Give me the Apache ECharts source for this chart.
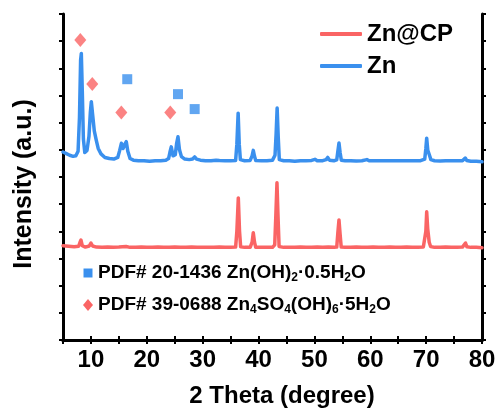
<!DOCTYPE html>
<html>
<head>
<meta charset="utf-8">
<script src="https://cdn.jsdelivr.net/npm/echarts@6/dist/echarts.min.js"></script>
<style>
html,body{margin:0;padding:0;background:#fff;}
#chart{width:499px;height:413px;}
</style>
</head>
<body>
<div id="chart"></div>
<script>
// ---- data (2θ in degrees, intensity in a.u. with vertical offset as drawn) ----
const seriesNames = ['Zn@CP', 'Zn'];
const xTickValues = [10, 20, 30, 40, 50, 60, 70, 80];

const znData = [
  [5.0,6.92],[5.6,6.86],[6.2,6.80],[6.8,6.76],[7.3,6.78],[7.7,6.95],[7.95,8.2],[8.15,10.3],[8.28,10.55],
  [8.45,9.2],[8.65,7.4],[8.9,6.9],[9.3,6.98],[9.65,7.5],[9.9,8.4],[10.07,8.77],[10.3,8.3],[10.6,7.7],
  [10.95,7.36],[11.3,7.05],[11.8,6.85],[12.5,6.72],[13.3,6.68],[14.1,6.66],[14.8,6.72],[15.15,6.98],
  [15.45,7.24],[15.75,7.05],[16.05,7.2],[16.33,7.3],[16.6,6.95],[17.0,6.68],[17.6,6.62],[18.5,6.6],
  [19.5,6.6],[20.5,6.58],[21.5,6.6],[22.5,6.6],[23.4,6.62],[23.9,6.68],[24.15,6.92],[24.38,7.11],
  [24.7,6.78],[25.1,6.82],[25.35,7.25],[25.58,7.48],[25.85,7.0],[26.2,6.75],[26.8,6.66],[27.6,6.64],
  [28.2,6.66],[28.57,6.74],[28.9,6.66],[29.6,6.62],[30.5,6.6],[31.5,6.6],[32.4,6.62],[32.7,6.66],
  [33.0,6.61],[34.0,6.6],[35.0,6.6],[35.9,6.61],[36.12,7.2],[36.35,8.35],[36.55,7.2],[36.75,6.64],
  [37.5,6.6],[38.5,6.61],[38.85,6.78],[39.06,6.98],[39.28,6.76],[39.5,6.61],[40.5,6.6],[41.5,6.6],
  [42.5,6.62],[42.95,6.8],[43.15,7.6],[43.33,8.54],[43.52,7.5],[43.72,6.64],[44.5,6.6],[45.5,6.6],
  [46.5,6.58],[47.5,6.6],[48.5,6.6],[49.5,6.61],[50.1,6.65],[50.5,6.6],[51.5,6.6],[52.1,6.64],
  [52.38,6.72],[52.7,6.62],[53.5,6.6],[54.0,6.63],[54.2,6.95],[54.4,7.25],[54.6,6.9],[54.82,6.62],
  [55.5,6.6],[56.5,6.6],[57.5,6.59],[58.5,6.6],[59.4,6.64],[59.8,6.6],[61,6.6],[62,6.6],[63,6.6],
  [64,6.6],[65,6.6],[66,6.6],[67,6.6],[68,6.6],[69.0,6.6],[69.75,6.66],[69.95,7.05],[70.1,7.43],
  [70.3,6.98],[70.6,6.8],[70.85,6.64],[71.5,6.6],[72.5,6.59],[73.5,6.6],[74.5,6.6],[75.5,6.6],
  [76.5,6.6],[76.8,6.64],[77.0,6.7],[77.25,6.61],[78,6.58],[79,6.58],[80,6.56]
];

const znCpData = [
  [5.0,3.47],[6,3.45],[7,3.43],[7.8,3.45],[8.05,3.6],[8.22,3.68],[8.45,3.47],[9.0,3.42],[9.7,3.46],
  [10.0,3.57],[10.3,3.46],[11,3.42],[12,3.41],[13,3.42],[14,3.41],[15,3.42],[16.3,3.44],[17,3.41],
  [18,3.41],[19,3.42],[20,3.41],[21,3.41],[22,3.42],[23,3.41],[24,3.41],[25,3.42],[26,3.41],[27,3.41],
  [28,3.42],[29,3.41],[30,3.41],[31,3.41],[32,3.41],[33,3.42],[34,3.41],[35,3.41],[35.9,3.42],
  [36.12,4.0],[36.38,5.23],[36.6,4.0],[36.8,3.43],[37.5,3.41],[38.5,3.41],[38.85,3.6],[39.06,3.95],
  [39.28,3.6],[39.5,3.41],[40.5,3.41],[41.5,3.41],[42.5,3.41],[42.9,3.5],[43.1,4.6],[43.3,5.79],
  [43.48,4.6],[43.68,3.44],[44.5,3.41],[45.5,3.41],[46.5,3.41],[47.5,3.42],[48.5,3.41],[49.5,3.41],
  [50.5,3.42],[51.5,3.41],[52.5,3.42],[53.5,3.41],[54.0,3.42],[54.2,3.95],[54.4,4.42],[54.6,3.9],
  [54.8,3.42],[55.5,3.41],[56.5,3.41],[57.5,3.42],[58.5,3.41],[59.5,3.41],[60.5,3.42],[61.5,3.41],
  [62.5,3.41],[63.5,3.42],[64.5,3.41],[65.5,3.41],[66.5,3.42],[67.5,3.41],[68.5,3.41],[69.5,3.42],
  [69.8,3.44],[69.95,4.0],[70.1,4.72],[70.28,4.1],[70.55,3.6],[70.8,3.44],[71.5,3.41],[72.5,3.41],
  [73.5,3.42],[74.5,3.41],[75.5,3.41],[76.5,3.42],[76.8,3.43],[77.05,3.57],[77.3,3.43],[78,3.41],
  [79,3.41],[80,3.40]
];

// reference-pattern markers (PDF cards)
const zincHydroxideMarks = [[16.5,9.6],[25.58,9.05],[28.57,8.5]];          // PDF# 20-1436 (blue squares)
const zhsMarks = [[8.1,11.04],[10.24,9.42],[15.44,8.37],[24.2,8.37]];      // PDF# 39-0688 (red diamonds)

const RED = '#FA6464';
const BLUE = '#3A90EE';
const FONT = '"Liberation Sans", Arial, Helvetica, sans-serif';

const chart = echarts.init(document.getElementById('chart'));

const axisLine = {show: true, lineStyle: {color: '#000', width: 3}};
const tickStyle = {show: true, inside: false, length: 4, lineStyle: {color: '#000', width: 2}};

const option = {
  backgroundColor: '#fff',
  animation: false,
  grid: {left: 63, right: 17, top: 14, bottom: 73, containLabel: false},
  legend: {
    data: seriesNames,
    orient: 'vertical',
    left: 315,
    top: 17,
    itemWidth: 42,
    itemHeight: 4,
    itemGap: 8,
    icon: 'roundRect',
    textStyle: {fontFamily: FONT, fontSize: 24, fontWeight: 'bold', color: '#000'}
  },
  xAxis: [{
    type: 'value', position: 'bottom', min: 5, max: 80, interval: 5,
    axisLine: axisLine, axisTick: tickStyle, splitLine: {show: false},
    axisLabel: {
      show: true, margin: 8, color: '#000', fontFamily: FONT, fontSize: 24, fontWeight: 'bold',
      showMinLabel: true, showMaxLabel: true,
      formatter: function (v) { return xTickValues.indexOf(v) >= 0 ? String(v) : ''; }
    }
  }, {
    type: 'value', position: 'top', min: 5, max: 80, interval: 5,
    axisLine: axisLine, axisTick: tickStyle, splitLine: {show: false}, axisLabel: {show: false}
  }],
  yAxis: [{
    type: 'value', position: 'left', min: 0, max: 12, interval: 1,
    axisLine: axisLine, axisTick: tickStyle, splitLine: {show: false}, axisLabel: {show: false}
  }, {
    type: 'value', position: 'right', min: 0, max: 12, interval: 1,
    axisLine: axisLine, axisTick: tickStyle, splitLine: {show: false}, axisLabel: {show: false}
  }],
  series: [{
    name: 'Zn', type: 'line', data: znData, showSymbol: false, symbol: 'none',
    lineStyle: {color: BLUE, width: 3.5, cap: 'round', join: 'round'}, itemStyle: {color: BLUE}, z: 3
  }, {
    name: 'Zn@CP', type: 'line', data: znCpData, showSymbol: false, symbol: 'none',
    lineStyle: {color: RED, width: 3.5, cap: 'round', join: 'round'}, itemStyle: {color: RED}, z: 3
  }, {
    name: 'PDF# 20-1436', type: 'scatter', data: zincHydroxideMarks, symbol: 'rect', symbolSize: 10,
    itemStyle: {color: BLUE}, z: 4
  }, {
    name: 'PDF# 39-0688', type: 'scatter', data: zhsMarks, symbol: 'diamond', symbolSize: [12, 14],
    itemStyle: {color: RED}, z: 4
  }],
  graphic: [
    {
      type: 'text', x: 24, y: 184, rotation: Math.PI / 2,
      style: {text: 'Intensity (a.u.)', font: 'bold 25px ' + FONT, fill: '#000', align: 'center', verticalAlign: 'middle'}
    },
    {
      type: 'text', x: 282, y: 396,
      style: {text: '2 Theta (degree)', font: 'bold 24px ' + FONT, fill: '#000', align: 'center', verticalAlign: 'middle'}
    },
    {
      type: 'rect', shape: {x: 83.5, y: 268.5, width: 9, height: 9}, style: {fill: BLUE}
    },
    {
      type: 'polygon', shape: {points: [[88, 299], [93, 305], [88, 311], [83, 305]]}, style: {fill: RED}
    },
    {
      type: 'text', x: 98, y: 273,
      style: {
        text: '{m|PDF# 20-1436 Zn(OH)}{s|2}{m|·0.5H}{s|2}{m|O}',
        verticalAlign: 'middle', align: 'left',
        rich: {
          m: {fontFamily: FONT, fontSize: 19, fontWeight: 'bold', fill: '#000', lineHeight: 22},
          s: {fontFamily: FONT, fontSize: 12, fontWeight: 'bold', fill: '#000', lineHeight: 10, verticalAlign: 'bottom'}
        }
      }
    },
    {
      type: 'text', x: 98, y: 305,
      style: {
        text: '{m|PDF# 39-0688 Zn}{s|4}{m|SO}{s|4}{m|(OH)}{s|6}{m|·5H}{s|2}{m|O}',
        verticalAlign: 'middle', align: 'left',
        rich: {
          m: {fontFamily: FONT, fontSize: 19, fontWeight: 'bold', fill: '#000', lineHeight: 22},
          s: {fontFamily: FONT, fontSize: 12, fontWeight: 'bold', fill: '#000', lineHeight: 10, verticalAlign: 'bottom'}
        }
      }
    }
  ]
};

chart.setOption(option);
</script>
</body>
</html>
